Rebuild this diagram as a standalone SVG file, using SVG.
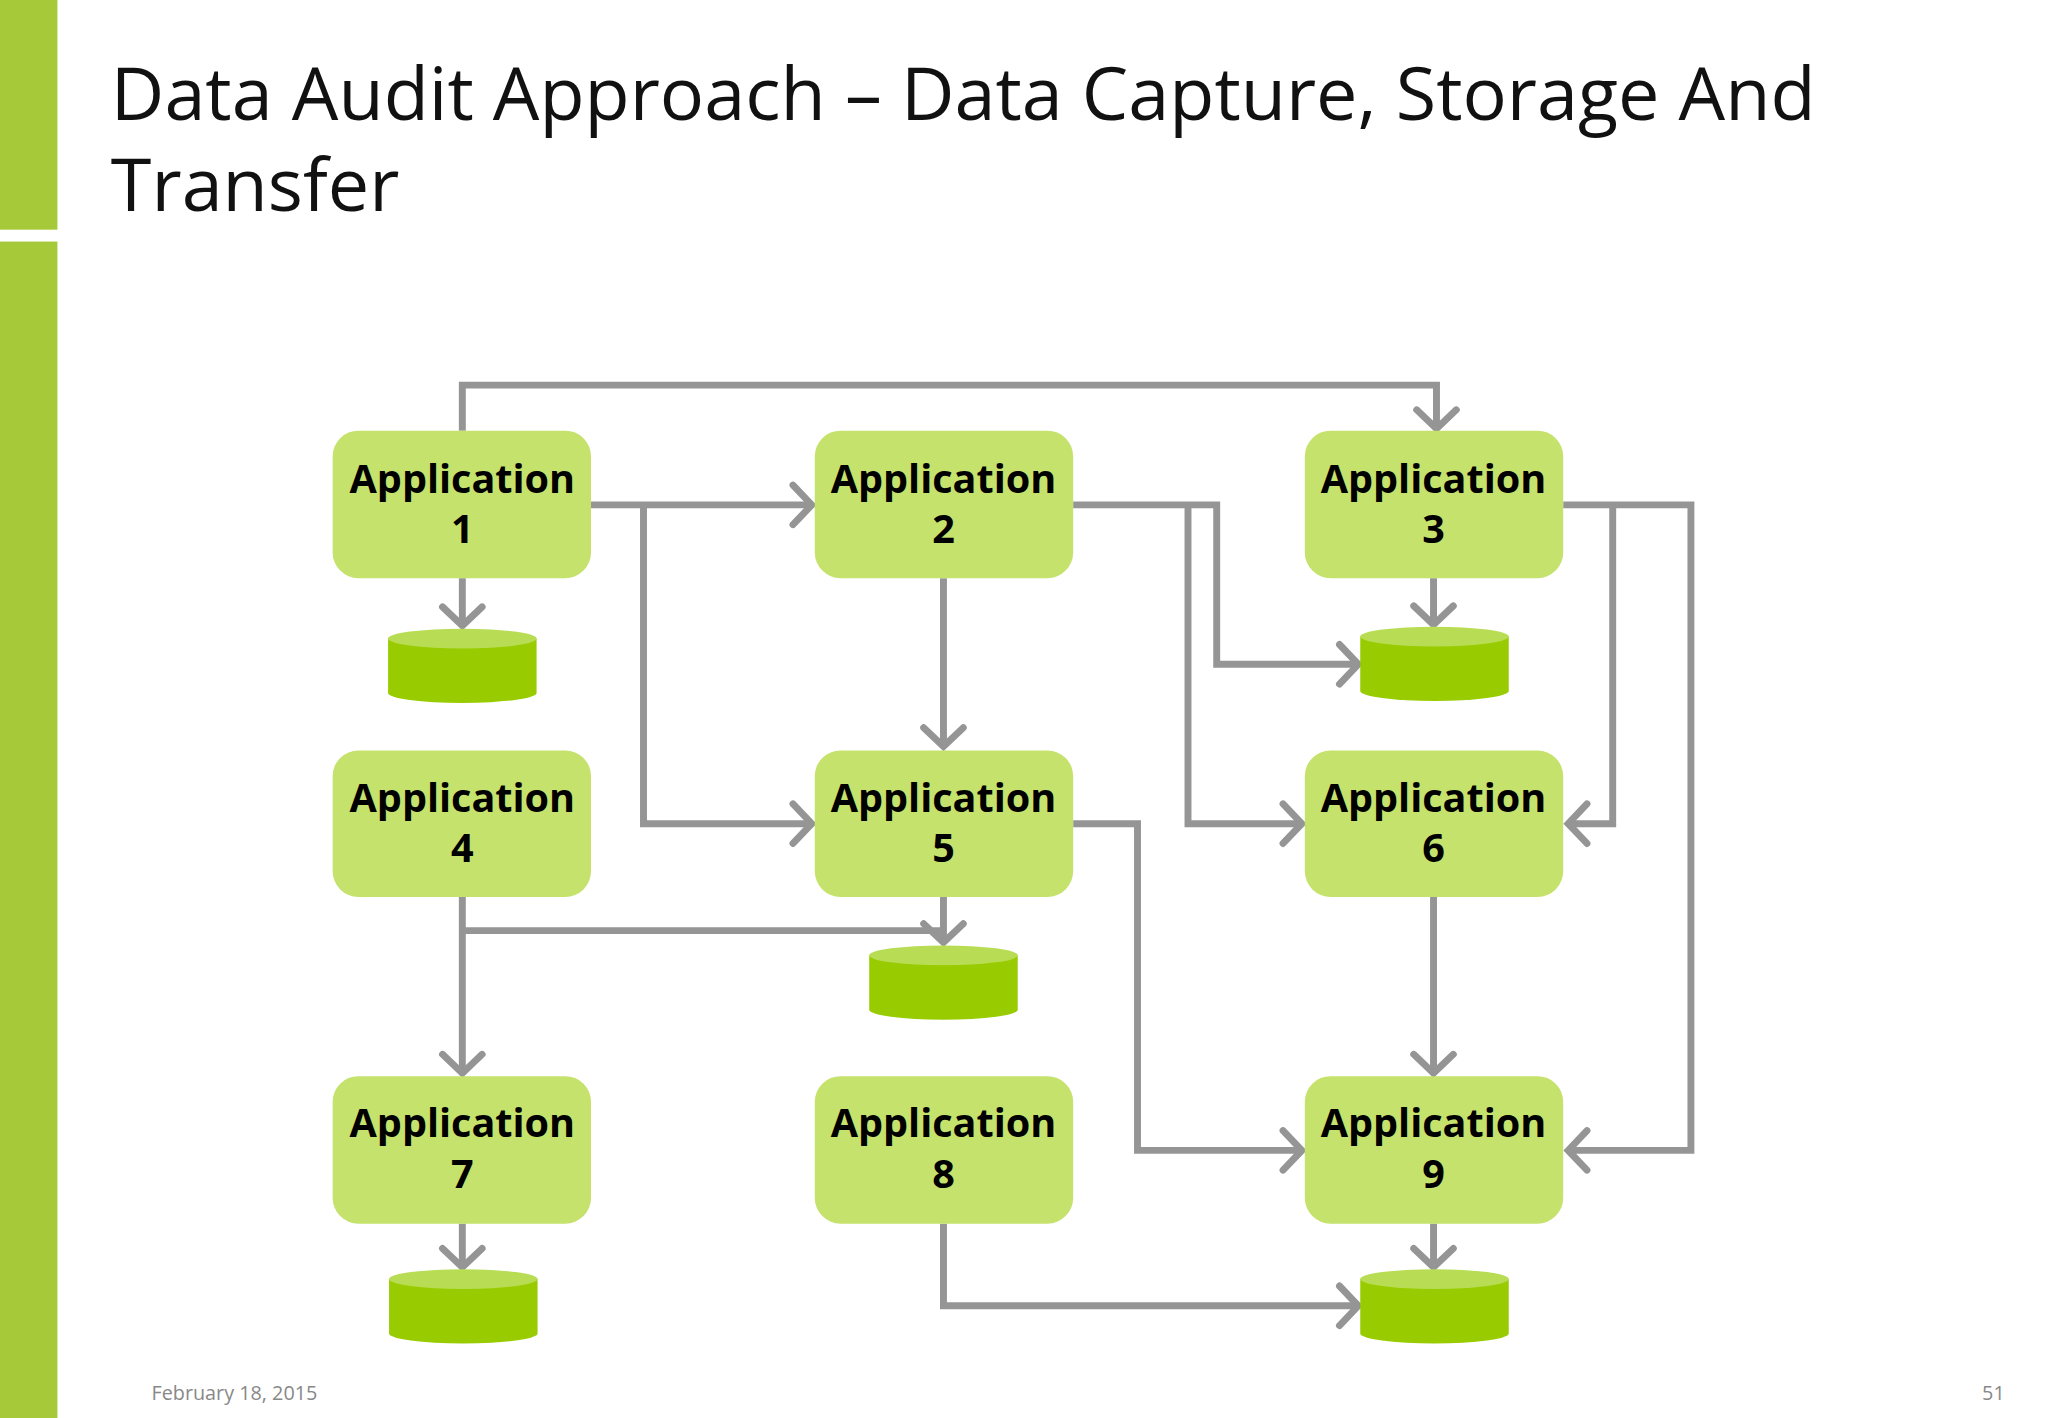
<svg xmlns="http://www.w3.org/2000/svg" width="2048" height="1418" viewBox="0 0 2048 1418">
<style>
.n{fill:#c5e26d}
.t{font-family:"Open Sans","Noto Sans",sans-serif;font-weight:bold;font-size:40px;fill:#000;text-anchor:middle}
.c path,.c polyline{fill:none;stroke:#959595;stroke-width:7;stroke-linejoin:miter}
.side{fill:#99cc00}.top{fill:#b8dd55}
</style>
<defs>
<marker id="a" markerUnits="userSpaceOnUse" markerWidth="50" markerHeight="50" viewBox="-25 -25 50 50" refX="0" refY="0" orient="auto" overflow="visible">
<path d="M-19,-20 L0,0 L-19,20" fill="none" stroke="#959595" stroke-width="7" stroke-linecap="round"/>
</marker>
<g id="cyl"><path class="side" d="M-75,0 v55 a75,10 0 0 0 150,0 v-55 z"/><ellipse class="top" cx="0" cy="0" rx="75" ry="10"/></g>
</defs>
<g transform="scale(0.99)">
<rect x="0" y="0" width="58" height="232" fill="#a6c93a"/>
<rect x="0" y="244" width="58" height="1190" fill="#a6c93a"/>
<text x="112" y="121" font-family="Open Sans,sans-serif" font-size="74.5" fill="#111">Data Audit Approach – Data Capture, Storage And</text>
<text x="112" y="213" font-family="Open Sans,sans-serif" font-size="74.5" fill="#111">Transfer</text>
<text x="153" y="1414" font-family="Open Sans,sans-serif" font-size="20" fill="#888">February 18, 2015</text>
<text x="2025" y="1414" font-family="Open Sans,sans-serif" font-size="20" fill="#888" text-anchor="end">51</text>
<g class="c" id="connectors">
<polyline points="467,435 467,389 1451,389 1451,433" marker-end="url(#a)"/>
<polyline points="597,510 820,510" marker-end="url(#a)"/>
<polyline points="650,510 650,832 820,832" marker-end="url(#a)"/>
<polyline points="467,584 467,632" marker-end="url(#a)"/>
<polyline points="1084,510 1229,510 1229,671 1372,671" marker-end="url(#a)"/>
<polyline points="1200,510 1200,832 1315,832" marker-end="url(#a)"/>
<polyline points="953,584 953,754" marker-end="url(#a)"/>
<polyline points="1448,584 1448,631" marker-end="url(#a)"/>
<polyline points="1579,510 1708,510 1708,1162 1584,1162" marker-end="url(#a)"/>
<polyline points="1629,510 1629,832 1584,832" marker-end="url(#a)"/>
<polyline points="1084,832 1149,832 1149,1162 1315,1162" marker-end="url(#a)"/>
<polyline points="953,906 953,952" marker-end="url(#a)"/>
<polyline points="467,906 467,1084" marker-end="url(#a)"/>
<polyline points="467,940 953,940"/>
<polyline points="1448,906 1448,1084" marker-end="url(#a)"/>
<polyline points="467,1236 467,1280" marker-end="url(#a)"/>
<polyline points="1448,1236 1448,1280" marker-end="url(#a)"/>
<polyline points="953,1236 953,1319 1372,1319" marker-end="url(#a)"/>
</g>
<g id="app1"><rect class="n" x="336" y="435" width="261" height="149" rx="26"/><text class="t" x="467" y="498">Application</text><text class="t" x="467" y="549">1</text></g>
<g id="app2"><rect class="n" x="823" y="435" width="261" height="149" rx="26"/><text class="t" x="953" y="498">Application</text><text class="t" x="953" y="549">2</text></g>
<g id="app3"><rect class="n" x="1318" y="435" width="261" height="149" rx="26"/><text class="t" x="1448" y="498">Application</text><text class="t" x="1448" y="549">3</text></g>
<g id="app4"><rect class="n" x="336" y="758" width="261" height="148" rx="26"/><text class="t" x="467" y="820">Application</text><text class="t" x="467" y="871">4</text></g>
<g id="app5"><rect class="n" x="823" y="758" width="261" height="148" rx="26"/><text class="t" x="953" y="820">Application</text><text class="t" x="953" y="871">5</text></g>
<g id="app6"><rect class="n" x="1318" y="758" width="261" height="148" rx="26"/><text class="t" x="1448" y="820">Application</text><text class="t" x="1448" y="871">6</text></g>
<g id="app7"><rect class="n" x="336" y="1087" width="261" height="149" rx="26"/><text class="t" x="467" y="1149">Application</text><text class="t" x="467" y="1200">7</text></g>
<g id="app8"><rect class="n" x="823" y="1087" width="261" height="149" rx="26"/><text class="t" x="953" y="1149">Application</text><text class="t" x="953" y="1200">8</text></g>
<g id="app9"><rect class="n" x="1318" y="1087" width="261" height="149" rx="26"/><text class="t" x="1448" y="1149">Application</text><text class="t" x="1448" y="1200">9</text></g>
<g id="db1"><use href="#cyl" x="467" y="645"/></g>
<g id="db3"><use href="#cyl" x="1449" y="643"/></g>
<g id="db5"><use href="#cyl" x="953" y="965"/></g>
<g id="db7"><use href="#cyl" x="468" y="1292"/></g>
<g id="db9"><use href="#cyl" x="1449" y="1292"/></g>
</g>
</svg>
